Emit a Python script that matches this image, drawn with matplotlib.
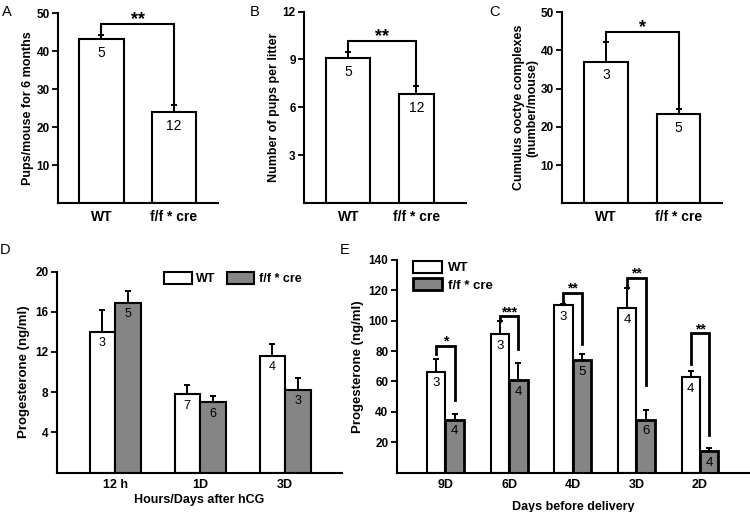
import matplotlib
matplotlib.use('Agg')
import matplotlib.pyplot as plt
import numpy as np

plt.rcParams['font.family'] = ['Liberation Sans', 'DejaVu Sans']
plt.rcParams['font.weight'] = 'bold'
plt.rcParams['axes.labelweight'] = 'bold'

# ---- data ----
groups = ['WT', 'f/f * cre']

a_mean = [43.1, 23.9]
a_err = [1.2, 2.0]
a_n = [5, 12]

b_mean = [9.07, 6.85]
b_err = [0.42, 0.48]
b_n = [5, 12]

c_mean = [37.1, 23.3]
c_err = [5.1, 1.4]
c_n = [3, 5]

d_times = ['12 h', '1D', '3D']
d_wt = [14.0, 7.8, 11.6]
d_wt_err = [2.2, 0.9, 1.2]
d_cre = [16.9, 7.0, 8.25]
d_cre_err = [1.2, 0.6, 1.15]
d_wt_n = [3, 7, 4]
d_cre_n = [5, 6, 3]

e_days = ['9D', '6D', '4D', '3D', '2D']
e_wt = [66.4, 91.0, 110.3, 108.1, 62.9]
e_wt_err = [8.1, 8.8, 0.6, 13.2, 4.1]
e_cre = [34.7, 60.9, 73.8, 34.7, 14.1]
e_cre_err = [3.8, 11.4, 4.4, 6.8, 1.9]
e_wt_n = [3, 3, 3, 4, 4]
e_cre_n = [4, 4, 5, 6, 4]
e_stars = ['*', '***', '**', '**', '**']
e_br_top = [83.5, 103.0, 118.5, 128.4, 91.6]
e_br_left = [77.8, 99.8, 110.8, 121.3, 71.4]
e_br_right = [47.7, 81.1, 84.4, 57.6, 24.6]

GRAY = '#858585'


def style_axis(ax, ylim, yticks, tick_fs, xtick_fs, xlabels):
    for s in ['top', 'right']:
        ax.spines[s].set_visible(False)
    for s in ['left', 'bottom']:
        ax.spines[s].set_linewidth(1.5)
    ax.set_ylim(*ylim)
    ax.set_yticks(yticks)
    ax.set_yticklabels([str(t) for t in yticks], fontsize=tick_fs, fontweight='bold')
    ax.set_xticklabels(xlabels, fontsize=xtick_fs, fontweight='bold')
    ax.tick_params(axis='y', length=4, width=1.3, pad=2)
    ax.tick_params(axis='x', length=0, pad=5)


def up_err(ax, x, y, e, lw=1.4):
    ax.errorbar(x, y, yerr=[np.zeros(len(y)), e], fmt='none', ecolor='black',
                elinewidth=lw, capsize=2.5, capthick=lw)


def n_labels(ax, x, y, n, fs=9, off=-4):
    for xi, yi, ni in zip(x, y, n):
        ax.annotate(str(ni), (xi, yi), xytext=(0, off), textcoords='offset points',
                    ha='center', va='top', fontsize=fs, fontweight='normal')


def bracket(ax, x1, x2, y1, y2, top, star, fs=13, lw=1.5):
    ax.plot([x1, x1, x2, x2], [y1, top, top, y2], color='black', lw=lw,
            solid_joinstyle='miter')
    ax.text((x1 + x2) / 2, top, star, ha='center', va='baseline',
            fontsize=fs, fontweight='bold')


def two_bar_panel(rect, mean, err, n, ylim, yticks, ylabel, widths, xlim, star, top):
    ax = fig.add_axes(rect)
    x = np.arange(1, len(mean) + 1)
    ax.bar(x, mean, width=widths, color='white', edgecolor='black', linewidth=1.5, zorder=2)
    up_err(ax, x, mean, err)
    n_labels(ax, x, mean, n, fs=10, off=-5)
    ax.set_xlim(*xlim)
    ax.set_xticks(x)
    style_axis(ax, ylim, yticks, 8.5, 10, groups)
    ax.set_ylabel(ylabel, fontsize=9, labelpad=1.5)
    tops = np.array(mean) + np.array(err)
    bracket(ax, x[0], x[1], tops[0], tops[1], top, star)
    return ax


fig = plt.figure(figsize=(7.5, 5.12), dpi=100)

# Panel A
two_bar_panel([0.0773, 0.6035, 0.2134, 0.3711], a_mean, a_err, a_n, (0, 50),
              [10, 20, 30, 40, 50], 'Pups/mouse for 6 months', 0.62, (0.4, 2.607), '**', 47.1)
# Panel B
two_bar_panel([0.4053, 0.6039, 0.216, 0.3734], b_mean, b_err, b_n, (0, 12),
              [3, 6, 9, 12], 'Number of pups per litter', [0.64, 0.51], (0.35, 2.726), '**', 10.18)
# Panel C
two_bar_panel([0.7493, 0.6031, 0.2134, 0.3729], c_mean, c_err, c_n, (0, 50),
              [10, 20, 30, 40, 50], 'Cumulus ooctye complexes\n(number/mouse)', 0.6,
              (0.393, 2.6), '*', 44.9)

# Panel D
axd = fig.add_axes([0.0756, 0.0771, 0.38, 0.3926])
xd = np.arange(1, len(d_times) + 1)
w = 0.3
axd.bar(xd - w / 2, d_wt, width=w, color='white', edgecolor='black', linewidth=1.5,
        label='WT', zorder=2)
axd.bar(xd + w / 2, d_cre, width=w, color=GRAY, edgecolor='black', linewidth=1.5,
        label='f/f * cre', zorder=2)
up_err(axd, xd - w / 2, d_wt, d_wt_err)
up_err(axd, xd + w / 2, d_cre, d_cre_err)
n_labels(axd, xd - w / 2, d_wt, d_wt_n, fs=9)
n_labels(axd, xd + w / 2, d_cre, d_cre_n, fs=9)
axd.set_xlim(0.314, 3.667)
axd.set_xticks(xd)
style_axis(axd, (0, 20), [4, 8, 12, 16, 20], 8.5, 9, d_times)
axd.set_ylabel('Progesterone (ng/ml)', fontsize=9.5, labelpad=4)
axd.set_xlabel('Hours/Days after hCG', fontsize=9, labelpad=2)
axd.legend(loc='upper left', bbox_to_anchor=(0.36, 1.02), ncol=2, frameon=False,
           prop={'size': 9, 'weight': 'bold'}, handlelength=2.2, handleheight=1.0,
           columnspacing=0.9, handletextpad=0.35, borderaxespad=0)

# Panel E
axe = fig.add_axes([0.5289, 0.0771, 0.4698, 0.4151])
xe = np.arange(1, len(e_days) + 1)
w = 0.29
axe.bar(xe - w / 2, e_wt, width=w, color='white', edgecolor='black', linewidth=1.5,
        label='WT', zorder=2)
axe.bar(xe + w / 2, e_cre, width=w, color=GRAY, edgecolor='black', linewidth=2.0,
        label='f/f * cre', zorder=2)
up_err(axe, xe - w / 2, e_wt, e_wt_err)
up_err(axe, xe + w / 2, e_cre, e_cre_err)
n_labels(axe, xe - w / 2, e_wt, e_wt_n, fs=9.5)
n_labels(axe, xe + w / 2, e_cre, e_cre_n, fs=9.5)
axe.set_xlim(0.234, 5.77)
axe.set_xticks(xe)
style_axis(axe, (0, 140), [20, 40, 60, 80, 100, 120, 140], 8.5, 9, e_days)
axe.set_ylabel('Progesterone (ng/ml)', fontsize=9.5, labelpad=3)
axe.set_xlabel('Days before delivery', fontsize=9, labelpad=7)
for i in range(len(e_days)):
    bracket(axe, xe[i] - w / 2, xe[i] + w / 2, e_br_left[i], e_br_right[i], e_br_top[i],
            e_stars[i], fs=10, lw=2)
axe.legend(loc='upper left', bbox_to_anchor=(0.03, 1.02), ncol=1, frameon=False,
           prop={'size': 9.5, 'weight': 'bold'}, handlelength=2.2, handleheight=1.0,
           labelspacing=0.3, handletextpad=0.5, borderaxespad=0)

# panel letters
for lab, x, y in [('A', 0.003, 0.99), ('B', 0.333, 0.99), ('C', 0.653, 0.99),
                  ('D', 0.0, 0.525), ('E', 0.453, 0.525)]:
    fig.text(x, y, lab, fontsize=10.5, fontweight='normal', va='top', ha='left')

fig.savefig('out.png', dpi=100)
